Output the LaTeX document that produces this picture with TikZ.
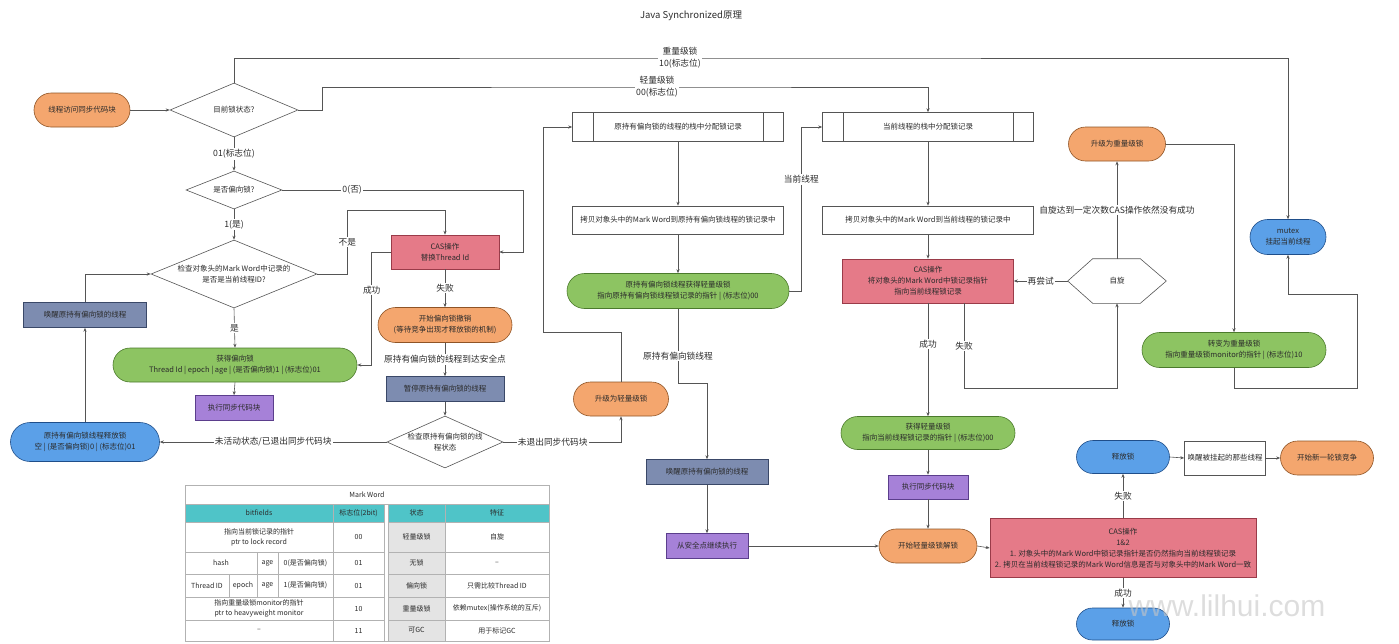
\documentclass[tikz,border=0pt]{standalone}
\usepackage{fontspec}
\setmainfont{Noto Sans CJK SC}
\newfontfamily\markfont{Liberation Sans}
\usetikzlibrary{arrows.meta,calc,positioning,shapes.geometric,shapes.misc}

\definecolor{oraF}{HTML}{F4A66E}
\definecolor{oraD}{HTML}{8F5426}
\definecolor{grnF}{HTML}{8DC462}
\definecolor{grnD}{HTML}{4B7A2C}
\definecolor{bluF}{HTML}{5BA0E8}
\definecolor{bluD}{HTML}{1F4E8A}
\definecolor{purF}{HTML}{A681D8}
\definecolor{purD}{HTML}{5B3E8C}
\definecolor{slaF}{HTML}{7D8CB0}
\definecolor{slaD}{HTML}{3A4868}
\definecolor{pnkF}{HTML}{E57A88}
\definecolor{pnkD}{HTML}{9A3B49}
\definecolor{tealF}{HTML}{4FC4C8}
\definecolor{cellgray}{HTML}{E4E4E4}
\definecolor{lineD}{HTML}{555555}
\definecolor{txt}{HTML}{2B2B2B}

\newcommand{\nodefont}{\fontsize{7.5}{11}\selectfont}
\newcommand{\lblfont}{\fontsize{8.7}{12}\selectfont}
\newcommand{\tabfont}{\fontsize{7}{10}\selectfont}

\tikzset{
  base/.style={font=\nodefont, text=txt, align=center, inner sep=1pt, line width=0.6pt},
  sz/.style 2 args={minimum width=#1, minimum height=#2},
  ora/.style={base, rounded rectangle, fill=oraF, draw=oraD},
  grn/.style={base, rounded rectangle, fill=grnF, draw=grnD},
  blu/.style={base, rounded rectangle, fill=bluF, draw=bluD},
  pur/.style={base, rectangle, fill=purF, draw=purD},
  sla/.style={base, rectangle, fill=slaF, draw=slaD},
  pnk/.style={base, rectangle, fill=pnkF, draw=pnkD},
  plainbox/.style={base, rectangle, fill=white, draw=lineD},
  dia/.style={base, diamond, fill=white, draw=lineD, inner sep=0pt},
  shapeline/.style={draw=lineD, line width=0.6pt},
  arr/.style={draw=lineD, line width=0.6pt, -{Stealth[length=4pt,width=3.2pt]}},
  lbl/.style={font=\lblfont, text=txt, fill=white, inner sep=1pt, align=center},
  tab/.style={draw=gray!60, line width=0.5pt},
  tabtext/.style={font=\tabfont, text=txt, align=center, inner sep=0pt},
}

\begin{document}
\begin{tikzpicture}[x=1pt,y=-1pt]
  \useasboundingbox (0,0) rectangle (1399,643);

  \node[font=\fontsize{9.5}{11}\selectfont, text=txt] (title) at (691,16) {Java Synchronized原理};

  % biased lock branch
  \node[ora, sz={98}{34}] (start) at (82,110) {线程访问同步代码块};
  \node[dia, sz={128}{54}, aspect=2.37] (lockstate) at (234,110) {目前锁状态?};
  \node[dia, sz={96}{38}, aspect=2.5] (isbiased) at (234,190) {是否偏向锁?};
  \node[dia, sz={166}{68}, aspect=2.44] (checkid) at (234,274) {检查对象头的Mark Word中记录的\\是否是当前线程ID?};
  \node[grn, sz={246}{34}] (gotbiased) at (235,365) {获得偏向锁\\Thread Id | epoch | age | (是否偏向锁)1 | (标志位)01};
  \node[pur, sz={78}{25}] (runbiased) at (234,408) {执行同步代码块};
  \node[sla, sz={123}{25}] (wakeleft) at (85,315) {唤醒原持有偏向锁的线程};
  \node[blu, sz={151}{39}] (release) at (85,442) {原持有偏向锁线程释放锁\\空 | (是否偏向锁)0 | (标志位)01};

  % revoking
  \node[pnk, sz={108}{34}] (casid) at (445,252) {CAS操作\\替换Thread Id};
  \node[ora, sz={136}{35}] (revoke) at (445,325) {开始偏向锁撤销\\(等待竞争出现才释放锁的机制)};
  \node[sla, sz={118}{25}] (pause) at (445,389) {暂停原持有偏向锁的线程};
  \node[dia, sz={116}{52}, aspect=2.23, inner sep=-3pt] (checkstate) at (445,442) {检查原持有偏向锁的线\\程状态};
  \node[ora, sz={97}{34}] (uplight) at (621,399) {升级为轻量级锁};

  % old owner gets light lock
  \node[plainbox, sz={211}{29}] (oldrec) at (678,127) {原持有偏向锁的线程的栈中分配锁记录};
  \node[plainbox, sz={211}{28}] (oldcopy) at (678,220) {拷贝对象头中的Mark Word到原持有偏向锁线程的锁记录中};
  \node[grn, sz={224}{35}] (oldgot) at (678,291) {原持有偏向锁线程获得轻量级锁\\指向原持有偏向锁线程锁记录的指针 | (标志位)00};
  \node[sla, sz={122}{25}] (wakemid) at (707,472) {唤醒原持有偏向锁的线程};
  \node[pur, sz={82}{25}] (resume) at (707,546) {从安全点继续执行};

  % current thread, light lock
  \node[plainbox, sz={211}{29}] (currec) at (928,127) {当前线程的栈中分配锁记录};
  \node[plainbox, sz={211}{28}] (curcopy) at (928,220) {拷贝对象头中的Mark Word到当前线程的锁记录中};
  \node[pnk, sz={171}{44}] (cascur) at (928,281) {CAS操作\\将对象头的Mark Word中锁记录指针\\指向当前线程锁记录};
  \node[grn, sz={176}{33}] (gotlight) at (928,433) {获得轻量级锁\\指向当前线程锁记录的指针 | (标志位)00};
  \node[pur, sz={80}{24}] (runlight) at (928,487) {执行同步代码块};
  \node[ora, sz={100}{34}] (unlock) at (928,546) {开始轻量级锁解锁};

  % spinning and heavy lock
  \node[base, sz={98}{44}] (spin) at (1117,281) {自旋};
  \draw[shapeline] (spin.west) -- ($(spin.north west)+(25,0)$) -- ($(spin.north east)+(-26,0)$)
    -- (spin.east) -- ($(spin.south east)+(-26,0)$) -- ($(spin.south west)+(25,0)$) -- cycle;
  \node[ora, sz={99}{34}] (upheavy) at (1117,144) {升级为重量级锁};
  \node[grn, sz={186}{35}] (toheavy) at (1234,350) {转变为重量级锁\\指向重量级锁monitor的指针 | (标志位)10};
  \node[blu, sz={78}{35}] (mutex) at (1288,237) {mutex\\挂起当前线程};

  % unlocking
  \node[pnk, sz={266}{59}] (casboth) at (1123,548) {CAS操作\\1\&2\\1. 对象头中的Mark Word中锁记录指针是否仍然指向当前线程锁记录\\2. 拷贝在当前线程锁记录的Mark Word信息是否与对象头中的Mark Word一致};
  \node[blu, sz={95}{33}] (relfail) at (1123,457) {释放锁};
  \node[plainbox, sz={81}{34}] (wakeall) at (1225,458) {唤醒被挂起的那些线程};
  \node[ora, sz={95}{34}] (newround) at (1327,458) {开始新一轮锁竞争};
  \node[blu, sz={95}{32}] (relok) at (1123,624) {释放锁};

  % stack record boxes
  \foreach \n in {oldrec,currec} {
    \draw[shapeline] ($(\n.north west)+(21,0)$) -- ($(\n.south west)+(21,0)$);
    \draw[shapeline] ($(\n.north east)+(-21,0)$) -- ($(\n.south east)+(-21,0)$);
  }

  % connectors
  \draw[arr] (start.east) -- (lockstate.west);
  \draw[arr] (lockstate.north) |- (680,58) node[lbl] (lblheavy) {重量级锁\\10(标志位)} -| (mutex.north);
  \draw[arr] (lockstate.east) -- ++(24,0) |- (657,87) node[lbl] (lbllight) {轻量级锁\\00(标志位)} -| (currec.north);
  \draw[arr] (lockstate.south) -- node[lbl] (lblflag) {01(标志位)} (isbiased.north);
  \draw[arr] (isbiased.south) -- node[lbl] (lblyes) {1(是)} (checkid.north);
  \draw[arr] (isbiased.east) -| node[lbl, pos=0.145] (lblno) {0(否)} ($(casid.east)+(24,0)$) -- (casid.east);
  \draw[arr] (checkid.east) -- ++(30,0) -- node[lbl] (lblnot) {不是} ++(0,-64) -| (casid.north);
  \draw[arr] (checkid.south) -- node[lbl] (lblis) {是} (gotbiased.north);
  \draw[arr] (casid.west) -- ++(-19,0) |- node[lbl, pos=0.17] (lblok1) {成功} (gotbiased.east);
  \draw[arr] (casid.south) -- node[lbl] (lblfail1) {失败} (revoke.north);
  \draw[arr] (revoke.south) -- node[lbl] (lblsafe) {原持有偏向锁的线程到达安全点} (pause.north);
  \draw[arr] (pause.south) -- (checkstate.north);
  \draw[arr] (checkstate.west) -- node[lbl] (lbldead) {未活动状态/已退出同步代码块} (release.east);
  \draw[arr] (checkstate.east) -| node[lbl, pos=0.21] (lblalive) {未退出同步代码块} (uplight.south);
  \draw[arr] (release.north) -- (wakeleft.south);
  \draw[arr] (wakeleft.north) |- (checkid.west);
  \draw[arr] (gotbiased.south) -- (runbiased.north);
  \draw[arr] (uplight.north) -- ++(0,-49) -| ($(oldrec.west)+(-29,0)$) -- (oldrec.west);
  \draw[arr] (oldrec.south) -- (oldcopy.north);
  \draw[arr] (oldcopy.south) -- (oldgot.north);
  \draw[arr] (oldgot.east) -- ++(12,0) |- node[lbl, pos=0.34] (lblcur) {当前线程} (currec.west);
  \draw[arr] (oldgot.south) -- node[lbl, pos=0.64] (lblold) {原持有偏向锁线程} ++(0,74) -| (wakemid.north);
  \draw[arr] (wakemid.south) -- (resume.north);
  \draw[arr] (resume.east) -- (unlock.west);
  \draw[arr] (currec.south) -- (curcopy.north);
  \draw[arr] (curcopy.south) -- (cascur.north);
  \draw[arr] (cascur.south) -- node[lbl, pos=0.36] (lblok2) {成功} (gotlight.north);
  \draw[arr] ($(cascur.south)+(36,0)$) -- node[lbl] (lblfail2) {失败} ++(0,85) -| (spin.south);
  \draw[arr] (spin.west) -- node[lbl] (lblretry) {再尝试} (cascur.east);
  \draw[arr] (spin.north) -- node[lbl] (lblspin) {自旋达到一定次数CAS操作依然没有成功} (upheavy.south);
  \draw[arr] (upheavy.east) -| (toheavy.north);
  \draw[arr] (toheavy.south) -- ++(0,20) -- ++(123,0) -- ++(0,-94) -| (mutex.south);
  \draw[arr] (gotlight.south) -- (runlight.north);
  \draw[arr] (runlight.south) -- (unlock.north);
  \draw[arr] (unlock.east) -- (casboth.west);
  \draw[arr] (casboth.north) -- node[lbl] (lblfail3) {失败} (relfail.south);
  \draw[arr] (relfail.east) -- (wakeall.west);
  \draw[arr] (wakeall.east) -- (newround.west);
  \draw[arr] (casboth.south) -- node[lbl] (lblok3) {成功} (relok.north);

  % Mark Word table
  \fill[tealF] (185,504) rectangle (384,522);
  \fill[tealF] (388,504) rectangle (549,522);
  \fill[cellgray] (388,522) rectangle (445,641);
  \draw[tab] (185,485) rectangle (549,641);
  \draw[tab] (185,504) -- (549,504);
  \foreach \y in {522,552,574,597,620} {
    \draw[tab] (185,\y) -- (384,\y);
    \draw[tab] (388,\y) -- (549,\y);
  }
  \foreach \x in {333,384,388,445} \draw[tab] (\x,504) -- (\x,641);
  \draw[tab] (257,552) -- (257,597);
  \draw[tab] (278,552) -- (278,597);
  \draw[tab] (229,574) -- (229,597);

  \node[tabtext] (mw) at (367,494.5) {Mark Word};
  \foreach \x/\t [count=\i] in {259/bitfields, 358.5/标志位(2bit), 416.5/状态, 497/特征}
    \node[tabtext] (head\i) at (\x,513) {\t};
  \foreach \y/\flag/\state/\feat [count=\i] in {537/00/轻量级锁/自旋, 563/01/无锁/–,
      585.5/01/偏向锁/只需比较Thread ID, 608.5/10/重量级锁/依赖mutex(操作系统的互斥), 630.5/11/可GC/用于标记GC} {
    \node[tabtext] (flag\i) at (358.5,\y) {\flag};
    \node[tabtext] (state\i) at (416.5,\y) {\state};
    \node[tabtext] (feat\i) at (497,\y) {\feat};
  }
  \node[tabtext] (bits1) at (259,537) {指向当前锁记录的指针\\ptr to lock record};
  \node[tabtext] (hash) at (221,563) {hash};
  \node[tabtext] (age2) at (267.5,563) {age};
  \node[tabtext] (bias2) at (305.5,563) {0(是否偏向锁)};
  \node[tabtext] (tid) at (207,585.5) {Thread ID};
  \node[tabtext] (epoch) at (243,585.5) {epoch};
  \node[tabtext] (age3) at (267.5,585.5) {age};
  \node[tabtext] (bias3) at (305.5,585.5) {1(是否偏向锁)};
  \node[tabtext] (bits4) at (259,608.5) {指向重量级锁monitor的指针\\ptr to heavyweight monitor};
  \node[tabtext] (bits5) at (259,630.5) {–};

  \node[font=\markfont\fontsize{30}{30}\selectfont, text=gray!45, opacity=0.6] (mark) at (1227,606) {www.lilhui.com};
\end{tikzpicture}
\end{document}
